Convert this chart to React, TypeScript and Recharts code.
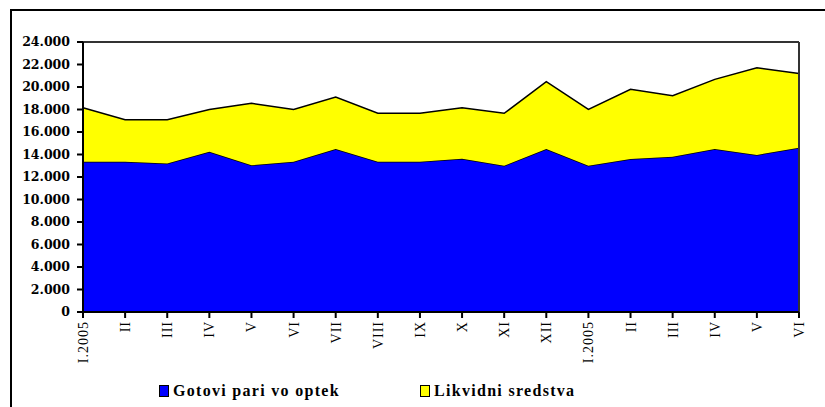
import React from 'react';
import { AreaChart, Area, XAxis, YAxis, ReferenceLine } from 'recharts';

const months = ['I.2005', 'II', 'III', 'IV', 'V', 'VI', 'VII', 'VIII', 'IX', 'X', 'XI', 'XII', 'I.2005', 'II', 'III', 'IV', 'V', 'VI'];
const gotovi = [13360, 13360, 13200, 14250, 13040, 13360, 14490, 13360, 13360, 13630, 13000, 14490, 13000, 13600, 13800, 14490, 13960, 14600];
const likvidni = [4790, 3740, 3900, 3750, 5510, 4640, 4610, 4300, 4300, 4530, 4660, 5980, 5000, 6200, 5430, 6190, 7740, 6600];
const yTicks = [0, 2000, 4000, 6000, 8000, 10000, 12000, 14000, 16000, 18000, 20000, 22000, 24000];

const data = months.map((m, i) => ({ idx: i, month: m, gotovi: gotovi[i], likvidni: likvidni[i] }));

const fmt = (v: number) => v.toString().replace(/\B(?=(\d{3})+(?!\d))/g, '.');

const MonthTick = (props: any) => {
  const { x, y, payload } = props;
  return (
    <text
      x={0}
      y={0}
      transform={`translate(${x + 5},${y + 1}) rotate(-90)`}
      textAnchor="end"
      fontFamily="'Liberation Serif', serif"
      fontSize={14}
      letterSpacing={1}
      fill="#000"
    >
      {months[payload.value]}
    </text>
  );
};

const LegendBox = () => (
  <div style={{ position: 'absolute', left: 159, top: 382, display: 'flex', fontFamily: "'Liberation Serif', serif", fontWeight: 'bold', fontSize: 16, letterSpacing: 1.3 }}>
    <div style={{ display: 'flex', alignItems: 'center', width: 261 }}>
      <span style={{ width: 8, height: 10, background: '#0000ff', border: '1px solid #000', marginRight: 4 }} />
      <span>Gotovi pari vo optek</span>
    </div>
    <div style={{ display: 'flex', alignItems: 'center' }}>
      <span style={{ width: 8, height: 10, background: '#ffff00', border: '1px solid #000', marginRight: 4 }} />
      <span>Likvidni sredstva</span>
    </div>
  </div>
);

export default function App() {
  return (
    <div style={{ position: 'absolute', left: 0, top: 0, width: 825, height: 407, overflow: 'hidden', background: '#fff' }}>
      <div style={{ position: 'absolute', left: 10, top: 9, width: 900, height: 500, border: '2px solid #000' }} />
      <AreaChart width={825} height={407} data={data} margin={{ top: 42, right: 26, bottom: 35, left: 0 }}>
        <XAxis
          dataKey="idx"
          type="number"
          domain={[0, 17]}
          ticks={data.map((d) => d.idx)}
          interval={0}
          height={60}
          tick={<MonthTick />}
          tickSize={6}
          axisLine={{ stroke: '#000', strokeWidth: 2 }}
          tickLine={{ stroke: '#000', strokeWidth: 2 }}
        />
        <YAxis
          domain={[0, 24000]}
          ticks={yTicks}
          interval={0}
          width={83}
          tickSize={6}
          tickMargin={7}
          tickFormatter={fmt}
          axisLine={{ stroke: '#000', strokeWidth: 2 }}
          tickLine={{ stroke: '#000', strokeWidth: 2 }}
          tick={{ fill: '#000', fontFamily: "'DejaVu Serif', serif", fontWeight: 'bold', fontSize: 12.5 }}
        />
        <Area type="linear" dataKey="gotovi" stackId="1" stroke="#000" strokeWidth={1.5} fill="#0000ff" fillOpacity={1} isAnimationActive={false} />
        <Area type="linear" dataKey="likvidni" stackId="1" stroke="#000" strokeWidth={1.5} fill="#ffff00" fillOpacity={1} isAnimationActive={false} />
        <ReferenceLine y={24000} stroke="#333" strokeWidth={2} />
        <ReferenceLine x={17} stroke="#333" strokeWidth={2} />
      </AreaChart>
      <LegendBox />
    </div>
  );
}
